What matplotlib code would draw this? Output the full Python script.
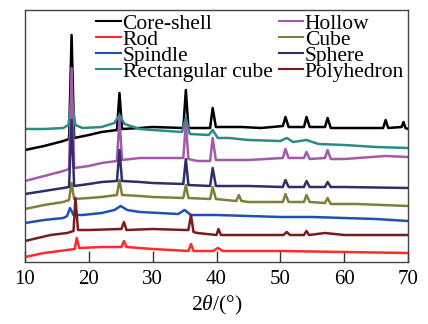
import numpy as np
import matplotlib.pyplot as plt

plt.rcParams['font.family'] = ['Liberation Serif', 'DejaVu Serif']
plt.rcParams['mathtext.fontset'] = 'custom'
plt.rcParams['mathtext.rm'] = 'Liberation Serif'
plt.rcParams['mathtext.it'] = 'Liberation Serif:italic'

# 2theta / intensity (a.u., stacked)
core_x = [10, 13, 16, 16.9, 17.3, 17.7, 20, 22, 24.4, 24.8, 25.2, 28, 30, 34.8, 35.2, 35.6, 39.0, 39.4, 39.9,
          44, 47, 50.4, 50.8, 51.3, 53.7, 54.1, 54.6, 57.0, 57.4, 57.9, 62, 66.1, 66.5, 66.9, 69.0, 69.3, 69.6, 70]
core_y = [112, 116, 121, 123, 227, 124, 127, 130, 132, 169, 133, 134, 135, 134, 172, 134, 134, 154, 135,
          135, 134, 136, 145, 135, 135, 145, 135, 135, 144, 134, 134, 134, 142, 134, 135, 140, 134, 133]

rod_x = [10, 13, 16.6, 17.8, 18.1, 18.5, 22, 25.1, 25.5, 25.9, 30, 35.6, 36.0, 36.4, 39.5, 40.2, 41, 50, 60, 70]
rod_y = [5, 9, 12, 13, 24, 14, 15, 15, 21, 15, 13, 11, 18, 11, 11, 14, 11, 11, 10, 9]

spindle_x = [10, 13, 16, 16.6, 17.05, 17.6, 19, 22, 24, 25.0, 26, 28, 31, 34, 35.0, 36, 40, 45, 50, 55, 60, 65, 70]
spindle_y = [39, 42, 44, 46, 54, 47, 47, 49, 52, 56, 52, 50, 49, 48, 52, 47, 47, 46, 45, 45, 44, 43, 41]

rect_x = [10, 13, 16, 16.8, 17.3, 17.9, 19, 22, 24.0, 24.8, 25.6, 28, 30, 34.6, 35.2, 35.8, 38.8, 39.4, 40.2,
          42, 45, 50, 51, 52, 54.1, 56, 60, 65, 70]
rect_y = [133, 133, 134, 137, 162, 137, 134, 135, 139, 147, 138, 133, 132, 130, 144, 128, 127, 132, 124,
          124, 122, 121, 124, 120, 122, 118, 117, 115, 114]

hollow_x = [10, 13, 16, 16.9, 17.3, 17.7, 20, 22, 24.4, 24.8, 25.2, 28, 30, 34.8, 35.2, 35.6, 37, 39.0, 39.4, 39.9,
            45, 50.4, 50.8, 51.3, 53.7, 54.1, 54.6, 57.0, 57.4, 57.9, 60, 66.5, 70]
hollow_y = [81, 86, 91, 93, 194, 94, 96, 99, 101, 144, 102, 104, 104, 104, 139, 103, 101, 101, 124, 102,
            102, 104, 113, 104, 104, 110, 103, 104, 112, 103, 103, 106, 105]

cube_x = [10, 13, 16, 16.9, 17.3, 17.7, 20, 22, 24.4, 24.8, 25.2, 28, 30, 34.8, 35.2, 35.6, 39.0, 39.4, 39.9,
          43.1, 43.5, 43.9, 45, 50.4, 50.8, 51.3, 53.7, 54.1, 54.6, 57.0, 57.4, 57.9, 62, 70]
cube_y = [53, 57, 60, 62, 79, 63, 64, 65, 67, 82, 67, 66, 65, 64, 77, 64, 63, 75, 63,
          61, 67, 61, 60, 60, 68, 60, 60, 67, 60, 59, 64, 58, 58, 56]

sphere_x = [10, 13, 16, 16.9, 17.3, 17.7, 20, 22, 24.4, 24.8, 25.2, 28, 30, 34.8, 35.2, 35.6, 39.0, 39.4, 39.9,
            45, 50.4, 50.8, 51.3, 53.7, 54.1, 54.6, 57.0, 57.4, 57.9, 60, 70]
sphere_y = [68, 71, 74, 75, 142, 76, 78, 80, 81, 112, 81, 80, 79, 78, 103, 77, 76, 94, 76,
            76, 75, 82, 75, 75, 81, 75, 75, 80, 75, 75, 74]

poly_x = [10, 14, 16.6, 17.6, 17.9, 18.3, 20, 25.1, 25.5, 25.9, 30, 35.0, 35.6, 36.0, 36.4, 37, 40.0, 40.3, 40.7,
          45, 50.5, 51, 51.5, 53.7, 54.1, 54.5, 57, 60, 70]
poly_y = [21, 27, 29, 31, 64, 32, 32, 33, 40, 32, 33, 32, 32, 47, 30, 29, 27, 33, 27,
          27, 27, 30, 27, 27, 31, 27, 29, 27, 27]

names = ['Core-shell', 'Rod', 'Spindle', 'Rectangular cube', 'Hollow', 'Cube', 'Sphere', 'Polyhedron']
xs = [core_x, rod_x, spindle_x, rect_x, hollow_x, cube_x, sphere_x, poly_x]
ys = [core_y, rod_y, spindle_y, rect_y, hollow_y, cube_y, sphere_y, poly_y]
colors = ['#000000', '#ff2a2a', '#1f50b4', '#2a8c84', '#a45aaa', '#7f7f3c', '#2e2e68', '#7a1c1c']

fig = plt.figure(figsize=(4.28, 3.24), dpi=100)
ax = fig.add_axes([25 / 428, 62 / 324, 383 / 428, 252 / 324])

for x, y, c, n in zip(xs, ys, colors, names):
    ax.plot(x, y, color=c, lw=1.8, label=n)

ax.set_xlim(10, 70)
ax.set_ylim(0, 252)
ax.set_xticks(np.arange(10, 71, 10))
ax.set_yticks([])
ax.tick_params(axis='x', direction='in', length=8, width=1, labelsize=15, pad=6, color='#333333')
for s in ax.spines.values():
    s.set_color('#444444')
    s.set_linewidth(1)
ax.set_xlabel(r'2$\it{\theta}$/(°)', fontsize=15.5, labelpad=3)

leg = ax.legend(ncol=2, frameon=False, fontsize=15.5, loc='upper right', bbox_to_anchor=(1.029, 1.045),
                handlelength=1.16, handletextpad=0.06, columnspacing=0.28, labelspacing=-0.19, borderpad=0.2)
for h in leg.get_lines():
    h.set_linewidth(1.5)

fig.savefig('out.png', dpi=100)
